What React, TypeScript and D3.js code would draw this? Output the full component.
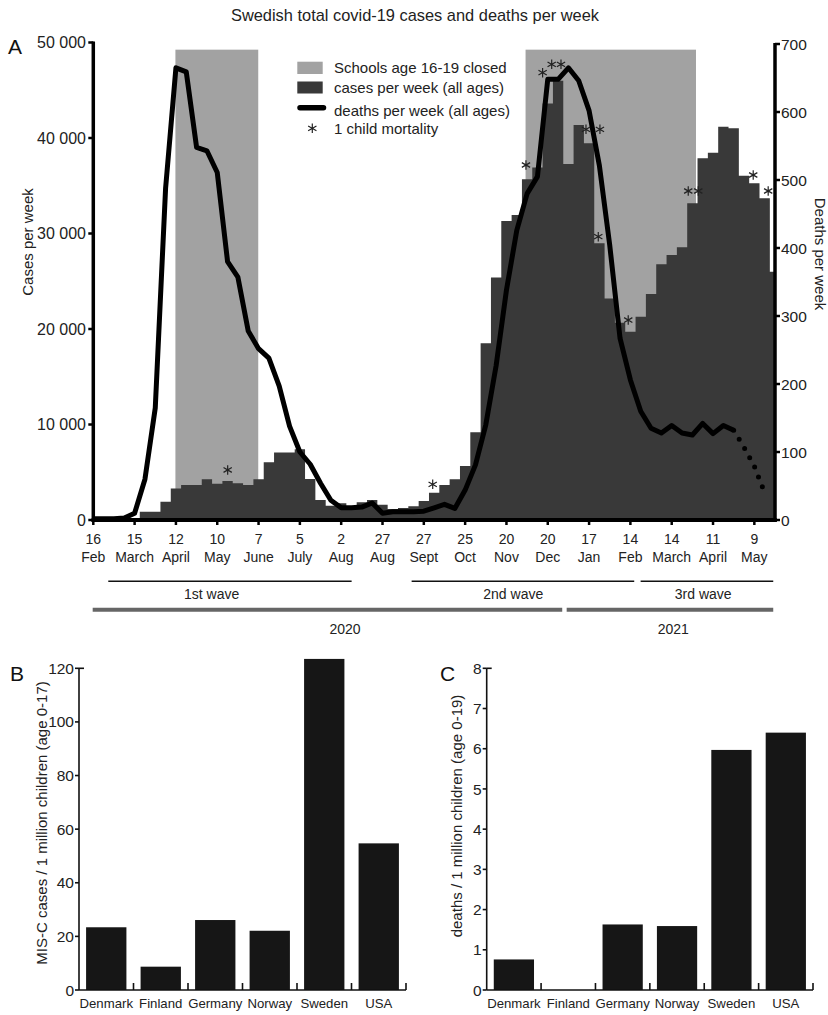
import React from 'react';
import * as d3 from 'd3';

const FONT = "'Liberation Sans', Arial, Helvetica, sans-serif";

// ---------- Panel A data (week index 0 = 16 Feb 2020) ----------
const casesPerWeek = [
  0, 0, 0, 0, 0, 870, 870, 1920, 3300, 3670,
  3670, 4260, 3800, 4090, 3840, 3670, 4260, 6050, 7060, 7060,
  7400, 4300, 2100, 1500, 1750, 1400, 1850, 2100, 1600, 1150,
  1250, 1450, 2000, 2860, 3660, 4260, 5650, 9180, 18500, 25400,
  31300, 31940, 35670, 36900, 43600, 46000, 37270, 41360, 39440, 28970,
  23200, 20660, 19720, 21290, 23670, 26770, 27750, 28550, 33160, 37870,
  38460, 41180, 41010, 36050, 35250, 33680, 26000,
];

const deathsPerWeek = [
  2, 2, 2, 3, 10, 60, 165, 488, 665, 659,
  548, 543, 511, 380, 357, 278, 252, 238, 197, 138,
  100, 82, 54, 29, 18, 18, 19, 25, 10, 12,
  12, 12, 13, 18, 23, 17, 44, 81, 140, 227,
  338, 426, 480, 505, 648, 648, 665, 646, 602, 521,
  404, 267, 206, 160, 135, 128, 139, 128, 125, 142,
  127, 139, 132,
];

// provisional (dotted) part of the deaths curve
const provisionalWeeks = [62, 63, 64, 65];
const provisionalDeaths = [132, 107, 79, 40];

// school closures (age 16-19), in weeks
const closureStart = [7.95, 41.85];
const closureEnd = [15.97, 58.35];
const closureTop = 49250;

// child mortality markers: week position and level (cases scale)
const childDeathWeek = [13.01, 32.86, 41.89, 43.5, 44.38, 45.28, 47.7, 49.05, 48.89, 51.79, 57.6, 58.57, 63.89, 65.34];
const childDeathLevel = [5236, 3738, 37173, 46838, 47717, 47717, 40911, 40911, 29665, 20942, 34450, 34450, 36126, 34450];

const tickWeeks = [0, 4, 8, 12, 16, 20, 24, 28, 32, 36, 40, 44, 48, 52, 56, 60, 64];
const tickDays = ['16', '15', '12', '10', '7', '5', '2', '27', '27', '25', '20', '20', '17', '14', '14', '11', '9'];
const tickMonths = ['Feb', 'March', 'April', 'May', 'June', 'July', 'Aug', 'Aug', 'Sept', 'Oct', 'Nov', 'Dec', 'Jan', 'Feb', 'March', 'April', 'May'];

const caseTicks = [0, 10000, 20000, 30000, 40000, 50000];
const deathTicks = [0, 100, 200, 300, 400, 500, 600, 700];

const waveLabels = ['1st wave', '2nd wave', '3rd wave'];
const waveStart = [1.45, 30.82, 52.99];
const waveEnd = [25.01, 52.37, 65.83];
const waveText = [11.46, 40.66, 59.05];

const yearLabels = ['2020', '2021'];
const yearStart = [-0.06, 45.83];
const yearEnd = [45.4, 65.83];
const yearText = [24.37, 56.15];

// ---------- Panels B and C ----------
const countries = ['Denmark', 'Finland', 'Germany', 'Norway', 'Sweden', 'USA'];
const miscCases = [23.4, 8.7, 26.1, 22.1, 123.5, 54.7];
const childDeaths = [0.76, 0, 1.63, 1.59, 5.97, 6.4];
const miscTicks = [0, 20, 40, 60, 80, 100, 120];
const deathRateTicks = [0, 1, 2, 3, 4, 5, 6, 7, 8];

const fmtThousands = d3.formatLocale({ decimal: '.', thousands: ' ', grouping: [3], currency: ['', ''] }).format(',');

const SHADE = '#a2a2a2';
const BAR = '#393939';

function BarPanel(props: {
  letter: string; letterX: number; axisX: number; axisRight: number;
  yMax: number; ticks: number[]; values: number[]; title: string; titleX: number; titleY: number;
}) {
  const { letter, letterX, axisX, axisRight, yMax, ticks, values, title, titleX, titleY } = props;
  const x = d3.scaleBand<string>().domain(countries).range([axisX, axisRight]).paddingInner(0.26).paddingOuter(0.13);
  const y = d3.scaleLinear().domain([0, yMax]).range([990, 668.3]);
  const step = x.step();
  return (
    <g fontFamily={FONT}>
      <text x={letterX} y={681} fontSize={21} fill="#111">{letter}</text>
      {countries.map((c, i) => (
        <rect key={c} x={x(c)} y={y(values[i])} width={x.bandwidth()} height={y(0) - y(values[i])} fill="#161616" />
      ))}
      <line x1={axisX} x2={axisX} y1={y(yMax)} y2={y(0)} stroke="#111" strokeWidth={1.6} />
      <line x1={axisX} x2={axisX + 5} y1={y(yMax)} y2={y(yMax)} stroke="#111" strokeWidth={1.6} />
      <line x1={axisX} x2={axisRight} y1={y(0)} y2={y(0)} stroke="#111" strokeWidth={1.6} />
      {d3.range(1, countries.length + 1).map(k => (
        <line key={k} x1={axisX + k * step} x2={axisX + k * step} y1={y(0)} y2={y(0) - 7} stroke="#111" strokeWidth={1.6} />
      ))}
      {ticks.map(t => (
        <g key={t}>
          <line x1={axisX - 4} x2={axisX} y1={y(t)} y2={y(t)} stroke="#111" strokeWidth={1.6} />
          <text x={axisX - 5} y={y(t)} dy="0.36em" textAnchor="end" fontSize={15.5} fill="#222">{t}</text>
        </g>
      ))}
      {countries.map(c => (
        <text key={c} x={(x(c) as number) + x.bandwidth() / 2} y={1008} textAnchor="middle" fontSize={13.2} fill="#222">{c}</text>
      ))}
      <text transform={`translate(${titleX},${titleY}) rotate(-90)`} textAnchor="middle" fontSize={15} fill="#222">{title}</text>
    </g>
  );
}

export default function App() {
  const W = 828, H = 1015;
  const x = d3.scaleLinear().domain([0, 66]).range([93.3, 775]);
  const yC = d3.scaleLinear().domain([0, 50000]).range([520, 42.5]);
  const yD = d3.scaleLinear().domain([0, 700]).range([520, 44]);

  const stepPts: [number, number][] = casesPerWeek.map((v, i) => [i - 0.5, v] as [number, number]);
  stepPts.push([casesPerWeek.length - 0.5, casesPerWeek[casesPerWeek.length - 1]]);
  const area = d3.area<[number, number]>()
    .x(d => x(d[0])).y0(yC(0)).y1(d => yC(d[1])).curve(d3.curveStepAfter);

  const line = d3.line<number>().x((d, i) => x(i)).y(d => yD(d));
  const provLine = d3.line<number>().x((d, i) => x(provisionalWeeks[i])).y(d => yD(d));

  const star = d3.symbol(d3.symbolAsterisk, 64)() as string;

  return (
    <svg width={W} height={H} style={{ position: 'absolute', left: 0, top: 0, background: '#fff' }} fontFamily={FONT}>
      <defs>
        <clipPath id="plotA"><rect x={x(0)} y={0} width={x(66) - x(0)} height={yC(0)} /></clipPath>
      </defs>
      <text x={415} y={20.5} textAnchor="middle" fontSize={16.4} fill="#222">Swedish total covid-19 cases and deaths per week</text>
      <text x={8} y={54} fontSize={21} fill="#111">A</text>

      {/* school closures */}
      {closureStart.map((s, i) => (
        <rect key={i} x={x(s)} y={yC(closureTop)} width={x(closureEnd[i]) - x(s)} height={yC(0) - yC(closureTop)} fill={SHADE} />
      ))}
      {/* cases */}
      <path d={area(stepPts) as string} fill={BAR} clipPath="url(#plotA)" />
      {/* deaths */}
      <path d={line(deathsPerWeek) as string} fill="none" stroke="#000" strokeWidth={5} strokeLinejoin="round" />
      <path d={provLine(provisionalDeaths) as string} fill="none" stroke="#000" strokeWidth={5} strokeLinecap="round" strokeDasharray="0 10.6" />
      {/* child mortality */}
      {childDeathWeek.map((w, i) => (
        <path key={i} d={star} transform={`translate(${x(w)},${yC(childDeathLevel[i])})`} fill="none" stroke="#222" strokeWidth={1.2} />
      ))}

      {/* left axis */}
      <line x1={x(0)} x2={x(0)} y1={yC(50000) - 1} y2={yC(0) + 2} stroke="#000" strokeWidth={3.5} />
      {caseTicks.map(t => (
        <g key={t}>
          <line x1={x(0) - 5} x2={x(0)} y1={yC(t)} y2={yC(t)} stroke="#000" strokeWidth={2.5} />
          <text x={86} y={yC(t)} dy="0.36em" textAnchor="end" fontSize={16} fill="#222">{fmtThousands(t)}</text>
        </g>
      ))}
      <text transform={`translate(32.5,242) rotate(-90)`} textAnchor="middle" fontSize={15} fill="#222">Cases per week</text>

      {/* right axis */}
      <line x1={x(66)} x2={x(66)} y1={yD(700) - 1} y2={yD(0) + 2} stroke="#000" strokeWidth={3.5} />
      {deathTicks.map(t => (
        <g key={t}>
          <line x1={x(66)} x2={x(66) + 5} y1={yD(t)} y2={yD(t)} stroke="#000" strokeWidth={2.5} />
          <text x={781} y={yD(t)} dy="0.36em" textAnchor="start" fontSize={15.5} fill="#222">{t}</text>
        </g>
      ))}
      <text transform={`translate(814.5,254) rotate(90)`} textAnchor="middle" fontSize={15} fill="#222">Deaths per week</text>

      {/* bottom axis */}
      <line x1={x(0) - 1.7} x2={x(66) + 1.7} y1={yC(0)} y2={yC(0)} stroke="#000" strokeWidth={4} />
      {tickWeeks.map((w, i) => (
        <g key={w}>
          <line x1={x(w)} x2={x(w)} y1={yC(0)} y2={yC(0) + 5} stroke="#000" strokeWidth={2.5} />
          <text x={x(w)} y={543.7} textAnchor="middle" fontSize={14} fill="#222">{tickDays[i]}</text>
          <text x={x(w)} y={562} textAnchor="middle" fontSize={14} fill="#222">{tickMonths[i]}</text>
        </g>
      ))}

      {/* waves */}
      {waveLabels.map((l, i) => (
        <g key={l}>
          <line x1={x(waveStart[i])} x2={x(waveEnd[i])} y1={581.3} y2={581.3} stroke="#111" strokeWidth={1.5} />
          <text x={x(waveText[i])} y={598.7} textAnchor="middle" fontSize={14} fill="#222">{l}</text>
        </g>
      ))}
      {yearLabels.map((l, i) => (
        <g key={l}>
          <line x1={x(yearStart[i])} x2={x(yearEnd[i])} y1={609.7} y2={609.7} stroke="#666" strokeWidth={4} />
          <text x={x(yearText[i])} y={633.7} textAnchor="middle" fontSize={14} fill="#222">{l}</text>
        </g>
      ))}

      {/* legend */}
      <rect x={297.3} y={61.7} width={25.4} height={12.3} fill={SHADE} />
      <text x={334} y={73.3} fontSize={15} fill="#222">Schools age 16-19 closed</text>
      <rect x={297.3} y={81.5} width={25.4} height={12} fill={BAR} />
      <text x={334} y={93.3} fontSize={15} fill="#222">cases per week (all ages)</text>
      <line x1={300} x2={323.5} y1={107.8} y2={107.8} stroke="#000" strokeWidth={5.5} strokeLinecap="round" />
      <text x={334} y={116} fontSize={15} fill="#222">deaths per week (all ages)</text>
      <path d={star} transform="translate(312.3,128.3)" fill="none" stroke="#222" strokeWidth={1.2} />
      <text x={334} y={134} fontSize={15} fill="#222">1 child mortality</text>

      <BarPanel letter="B" letterX={10} axisX={79} axisRight={406} yMax={120} ticks={miscTicks} values={miscCases}
        title="MIS-C cases / 1 million children (age 0-17)" titleX={47} titleY={823} />
      <BarPanel letter="C" letterX={440} axisX={486.7} axisRight={813} yMax={8} ticks={deathRateTicks} values={childDeaths}
        title="deaths / 1 million children (age 0-19)" titleX={461.7} titleY={816} />
    </svg>
  );
}
